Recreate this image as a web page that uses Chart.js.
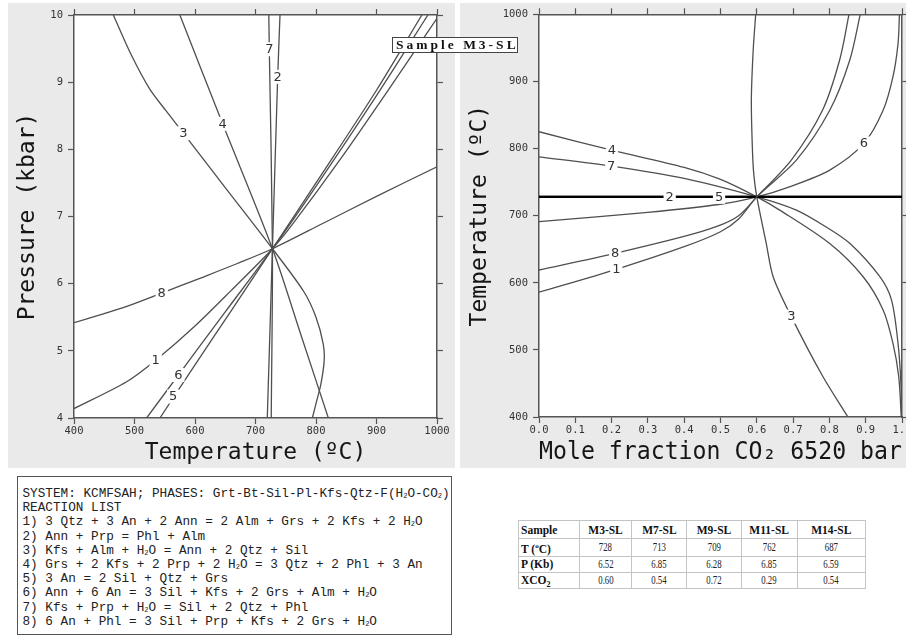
<!DOCTYPE html>
<html>
<head>
<meta charset="utf-8">
<script src="https://cdn.jsdelivr.net/npm/chart.js@4.4.1/dist/chart.umd.min.js"></script>
<style>
  html, body { margin:0; padding:0; background:#fff; width:906px; height:639px; overflow:hidden; position:relative; }
  .panel { position:absolute; background:#eaeaea; }
  #ptPanel { left:8px; top:3px; width:447px; height:465px; }
  #txPanel { left:460px; top:3px; width:480px; height:465px; }
  .panel canvas { display:block; }
  #sampleTag {
    position:absolute; left:392px; top:37px; width:124px; height:14px;
    border:1px solid #444; background:#fff; color:#111;
    font:bold 13.5px/14px "Liberation Serif", serif; letter-spacing:3px;
    text-align:center; white-space:nowrap; text-indent:3px;
  }
  #reactions {
    position:absolute; left:17px; top:476px; width:435px; height:159px; box-sizing:border-box;
    border:1.5px solid #555; background:#fff; padding:10px 0 0 4.5px;
    font:12.7px/14.2px "Liberation Mono", monospace; color:#222; white-space:pre;
  }
  #reactions sub { font-size:7px; line-height:0; vertical-align:-1px; }
  #results {
    position:absolute; left:518px; top:520px; border-collapse:collapse;
    font-family:"Liberation Serif", serif; color:#111; background:#fff;
  }
  #results td { border:1px solid #c4c4c4; padding:0; text-align:center; height:15px; font-size:12.5px; line-height:14px; }
  #results tr:first-child td { height:17px; }
  #results td.head { font-weight:bold; font-size:11.5px; }
  #results td.rowhead { font-weight:bold; text-align:left; padding-left:2px; font-size:11.5px; }
  #results span.v { display:inline-block; transform:scaleX(0.7); color:#222; }
  #results sub { font-size:8px; line-height:0; }
</style>
</head>
<body>
<div class="panel" id="ptPanel"><canvas id="ptChart" width="447" height="465"></canvas></div>
<div class="panel" id="txPanel"><canvas id="txChart" width="480" height="465"></canvas></div>
<div id="sampleTag">Sample M3-SL</div>
<div id="reactions">SYSTEM: KCMFSAH; PHASES: Grt-Bt-Sil-Pl-Kfs-Qtz-F(H<sub>2</sub>O-CO<sub>2</sub>)
REACTION LIST
1) 3 Qtz + 3 An + 2 Ann = 2 Alm + Grs + 2 Kfs + 2 H<sub>2</sub>O
2) Ann + Prp = Phl + Alm
3) Kfs + Alm + H<sub>2</sub>O = Ann + 2 Qtz + Sil
4) Grs + 2 Kfs + 2 Prp + 2 H<sub>2</sub>O = 3 Qtz + 2 Phl + 3 An
5) 3 An = 2 Sil + Qtz + Grs
6) Ann + 6 An = 3 Sil + Kfs + 2 Grs + Alm + H<sub>2</sub>O
7) Kfs + Prp + H<sub>2</sub>O = Sil + 2 Qtz + Phl
8) 6 An + Phl = 3 Sil + Prp + Kfs + 2 Grs + H<sub>2</sub>O</div>
<table id="results"></table>

<script>
// ---- P–T section (temperature °C, pressure kbar), one array per reaction ----
const ptR1 = [[400,4.14],[487,4.54],[535,4.86],[600,5.37],[660,5.90],[728,6.52],[760,6.87],[840,7.85],[920,8.89],[1000,9.95]];
const ptR2 = [[740.5,10],[736.7,9.08],[728,6.52],[719.5,4]];
const ptR3 = [[465,10],[495,9.4],[525,8.9],[552,8.575],[580.7,8.24],[650,7.43],[728,6.52],[780,5.88],[800,5.5],[812,5.1],[813.5,4.85],[808,4.5],[801,4.25],[794,4]];
const ptR4 = [[575,10],[645.7,8.38],[728,6.52],[775,5.24],[820.4,4]];
const ptR5 = [[542,4],[600,4.79],[660,5.60],[728,6.52],[800,7.5],[900,8.88],[975,10]];
const ptR6 = [[520,4],[572.5,4.64],[650,5.58],[728,6.52],[800,7.45],[900,8.8],[985,10]];
const ptR7 = [[722,10],[722.8,9.49],[728,6.52],[726,4]];
const ptR8 = [[400,5.42],[480,5.64],[545,5.86],[608,6.08],[670,6.3],[728,6.52],[812,6.9],[900,7.3],[1000,7.74]];
// reaction number tags on the P–T curves: [text, T, P]
const ptTags = [['1',535,4.86],['6',572.5,4.64],['5',564,4.32],['8',545,5.86],['3',580.7,8.24],['4',645.7,8.38],['7',722.8,9.49],['2',736.7,9.08]];
const ptTempTicks = [400, 1000, 100];
const ptPressTicks = [4, 10, 1];

// ---- T–X(CO2) section at 6520 bar (mole fraction CO2, temperature °C) ----
const txR1 = [[0,585.9],[0.213,620.1],[0.4,653.7],[0.5,676],[0.55,695],[0.6,728],[0.709,782.7],[0.801,857],[0.856,931.5],[0.885,1000]];
const txR2 = [[0,728],[1,728]];
const txR3 = [[0.597,1000],[0.59,946],[0.585,872],[0.588,797.6],[0.592,760],[0.6,728],[0.626,658.8],[0.645,609],[0.695,549.6],[0.782,460.3],[0.851,400]];
const txR4 = [[0,825],[0.2,797.6],[0.4,772],[0.5,754],[0.6,728],[0.663,708.3],[0.8,658.8],[0.893,609],[0.948,559.5],[0.975,510],[0.991,460],[0.998,400]];
const txR5 = [[0,728],[1,728]];
const txR6 = [[0,691],[0.3,705],[0.5,717],[0.6,728],[0.69,743],[0.801,767.9],[0.895,807.6],[0.948,857],[0.975,906.7],[0.989,956],[0.993,1000]];
const txR7 = [[0,787.7],[0.2,773.8],[0.4,755.5],[0.6,728],[0.709,708.3],[0.79,683.5],[0.856,658.8],[0.939,609],[0.971,574.4],[0.989,510],[0.997,450],[0.999,400]];
const txR8 = [[0,619],[0.21,643.9],[0.397,668.6],[0.488,683.5],[0.55,700],[0.6,728],[0.695,782.7],[0.781,857],[0.828,931.5],[0.854,1000]];
const txTags = [['4',0.201,797.6],['7',0.199,773.8],['2',0.36,728],['5',0.496,728],['8',0.21,643.9],['1',0.213,620.1],['6',0.895,807.6],['3',0.695,549.6]];
const txFracTicks = [0, 1, 0.1];
const txTempTicks = [400, 1000, 100];

// ---- thermobarometry results ----
const samples = ['M3-SL','M7-SL','M9-SL','M11-SL','M14-SL'];
const tempC = [728, 713, 709, 762, 687];
const pressKb = [6.52, 6.85, 6.28, 6.85, 6.59];
const xco2 = [0.60, 0.54, 0.72, 0.29, 0.54];

// results table
(function buildTable(){
  const tbl = document.getElementById('results');
  const widths = [57.7, 51.7, 54, 53.3, 55, 67.3];
  const rows = [
    ['Sample', ...samples],
    ['T (<sup style="font-size:7px">o</sup>C)', ...tempC.map(v => String(v))],
    ['P (Kb)', ...pressKb.map(v => v.toFixed(2))],
    ['XCO<sub>2</sub>', ...xco2.map(v => v.toFixed(2))]
  ];
  rows.forEach((r, ri) => {
    const tr = document.createElement('tr');
    r.forEach((c, ci) => {
      const td = document.createElement('td');
      td.style.width = widths[ci] + 'px';
      if (ci === 0) { td.className = 'rowhead'; td.innerHTML = c; }
      else if (ri === 0) { td.className = 'head'; td.textContent = c; }
      else { td.innerHTML = '<span class="v">' + c + '</span>'; }
      tr.appendChild(td);
    });
    tbl.appendChild(tr);
  });
})();

const AXIS = '#555';
const CURVE = '#4f4f4f';
const tickFont = { family: 'DejaVu Sans Mono', size: 10.5 };
const plain = v => String(v);

// white plotting field on the grey panel
const fieldPlugin = {
  id: 'field',
  beforeDraw(chart) {
    const { ctx, chartArea: a } = chart;
    ctx.save();
    ctx.fillStyle = '#fff';
    ctx.fillRect(a.left, a.top, a.right - a.left, a.bottom - a.top);
    ctx.restore();
  }
};

// reaction numbers written into gaps on the curves
const tagPlugin = {
  id: 'curveTags',
  afterDatasetsDraw(chart, args, opts) {
    const { ctx, scales } = chart;
    ctx.save();
    ctx.font = '13px "DejaVu Sans"';
    ctx.textAlign = 'center';
    ctx.textBaseline = 'middle';
    for (const [txt, vx, vy] of opts.tags) {
      const px = scales.x.getPixelForValue(vx);
      const py = scales.y.getPixelForValue(vy);
      const w = ctx.measureText(txt).width + 4;
      ctx.fillStyle = '#fff';
      ctx.fillRect(px - w / 2, py - 7, w, 14);
      ctx.fillStyle = '#333';
      ctx.fillText(txt, px, py + 0.5);
    }
    ctx.restore();
  }
};

function curve(points, heavy) {
  return {
    data: points.map(([x, y]) => ({ x, y })),
    showLine: true,
    borderColor: heavy ? '#000' : CURVE,
    borderWidth: heavy ? 2.2 : 1.3,
    pointRadius: 0,
    tension: 0.3,
    fill: false
  };
}

function axis(pos, range, fixed, opts, fmt) {
  const [min, max, step] = range;
  const horiz = pos === 'top' || pos === 'bottom';
  return Object.assign({
    type: 'linear', position: pos, min, max,
    ticks: { stepSize: step, font: tickFont, color: '#333', autoSkip: false, maxRotation: 0,
             padding: horiz ? 1 : 5, callback: fmt || plain },
    grid: { drawOnChartArea: false, tickLength: 6, color: AXIS, tickWidth: 1.2 },
    border: { color: AXIS, width: 1.5 },
    afterFit(s) { if (horiz) s.height = fixed; else s.width = fixed; }
  }, opts || {});
}

function hidden(a) {
  a.ticks = Object.assign({}, a.ticks, { display: false });
  return a;
}

function titleOf(text, size, pad) {
  return { display: true, text, color: '#151515', font: { family: 'DejaVu Sans Mono', size }, padding: pad };
}

// P–T diagram
new Chart(document.getElementById('ptChart'), {
  type: 'scatter',
  data: { datasets: [ptR1, ptR2, ptR3, ptR4, ptR5, ptR6, ptR7, ptR8].map(p => curve(p)) },
  options: {
    responsive: false, animation: false, events: [],
    layout: { padding: 0 },
    plugins: { legend: { display: false }, tooltip: { enabled: false }, curveTags: { tags: ptTags } },
    scales: {
      x: axis('bottom', ptTempTicks, 50, { title: titleOf('Temperature (ºC)', 23, { top: 0, bottom: 1 }) }),
      x2: hidden(axis('top', ptTempTicks, 12)),
      y: axis('left', ptPressTicks, 66, { title: titleOf('Pressure (kbar)', 23, { top: 6, bottom: 0 }) }),
      y2: hidden(axis('right', ptPressTicks, 18))
    }
  },
  plugins: [fieldPlugin, tagPlugin]
});

// T–X(CO2) diagram
new Chart(document.getElementById('txChart'), {
  type: 'scatter',
  data: { datasets: [txR1, txR2, txR3, txR4, txR5, txR6, txR7, txR8].map((p, i) => curve(p, i === 1 || i === 4)) },
  options: {
    responsive: false, animation: false, events: [],
    layout: { padding: 0 },
    plugins: { legend: { display: false }, tooltip: { enabled: false }, curveTags: { tags: txTags } },
    scales: {
      x: axis('bottom', txFracTicks, 51, { title: titleOf('Mole fraction CO₂ 6520 bar', 24, { top: 0, bottom: 1 }) },
              v => Number(v).toFixed(1)),
      x2: hidden(axis('top', txFracTicks, 11)),
      y: axis('left', txTempTicks, 79, { title: titleOf('Temperature (ºC)', 23, { top: 6, bottom: 0 }) }),
      y2: hidden(axis('right', txTempTicks, 38))
    }
  },
  plugins: [fieldPlugin, tagPlugin]
});
</script>
</body>
</html>
